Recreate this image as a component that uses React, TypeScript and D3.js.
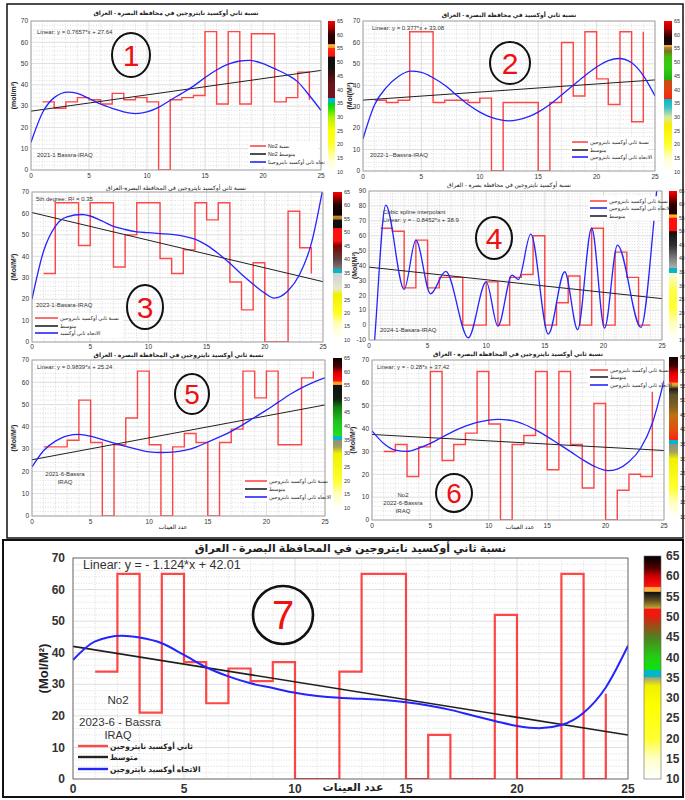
import * as d3 from 'd3';
import React from 'react';

// sample numbers on the x axis (stairs run from sample 1 to 24)
const samples = d3.range(1, 25);

// ---- 2021-1 ----
const no2_2021_1 = [32, 29, 32, 34, 33, 31, 36, 33, 34, 32, 0, 33, 34, 35, 65, 31, 65, 31, 64, 64, 32, 34, 46, 33];
const fit_2021_1 = [0.7657, 27.64]; // slope, intercept
const trend_2021_1 = [[0, 13], [1, 27], [2, 34], [3.2, 36.6], [4, 36], [5, 33.6], [6, 31], [7, 29], [8, 27.3], [9, 26.5], [10, 27.3], [11, 29.4], [12, 32.8], [13, 36], [14, 39.4], [15, 43.4], [16, 47], [17, 49.7], [18, 51.2], [18.8, 51.5], [20, 50], [21, 47.6], [22, 45], [23, 41.4], [24, 35], [25, 28]];

// ---- 2022-1 ----
const no2_2022_1 = [33, 32, 33, 65, 65, 32, 33, 33, 32, 34, 0, 32, 32, 32, 0, 32, 60, 35, 65, 43, 31, 65, 23, 65];
const fit_2022_1 = [0.377, 33.08];
const trend_2022_1 = [[0, 15], [1, 31], [2, 39], [3, 44], [4.1, 46.6], [5, 46], [6, 43.5], [7, 40], [8, 35.5], [9, 31], [10, 27.5], [11, 25], [12.5, 23.4], [14, 25], [15, 27.5], [16, 31], [17, 35.5], [18, 40], [19, 44.5], [20, 48.5], [21, 51.5], [21.9, 52.5], [23, 50.5], [24, 44.5], [25, 35]];

// ---- 2023-1 ----
const no2_2023_1 = [32, 65, 65, 45, 65, 65, 35, 50, 65, 65, 39, 32, 43, 65, 57, 65, 28, 15, 37, 0, 0, 61, 44, 32];
const fit_2023_1 = [-1.29, 60.4];
const trend_2023_1 = [[0, 20], [1, 42.5], [2, 54], [3, 58.4], [4.3, 59.5], [5, 58.8], [6, 56.5], [7, 54], [8, 52.5], [9, 51.4], [10, 51], [11, 50.6], [12, 50.2], [13, 49.4], [14, 48], [15, 45.2], [16, 41.3], [17, 36.7], [18, 31.6], [19, 27], [20, 22.8], [20.8, 20.5], [22, 23.9], [23, 31.6], [24, 46], [25, 72]];

// ---- 2024-1 ----
const no2_2024_1 = [65, 63, 25, 57, 25, 32, 32, 0, 0, 29, 0, 32, 34, 60, 0, 15, 33, 0, 65, 0, 49, 32, 0, 0];
const fit_2024_1 = [-0.8452, 38.9];
const trend_2024_1 = [[0, -60], [0.48, -10], [1.43, 80.5], [3.0, 24], [4.0, 57], [5.25, 21], [6.55, 36], [8.47, -8.5], [10.0, 29], [11.0, -0.7], [12.2, 33.5], [12.75, 30.6], [13.8, 61], [15.3, -6], [16.7, 35.8], [17.8, -3], [19.0, 65], [20.1, -2], [21.2, 53.7], [23.2, -1.5], [24.3, 69], [24.6, 95]];

// ---- 2021-6 ----
const no2_2021_6 = [31, 31, 34, 52, 33, 0, 32, 44, 65, 32, 0, 31, 37, 33, 0, 33, 39, 65, 53, 65, 32, 32, 62, 65];
const fit_2021_6 = [0.9839, 25.24];
const trend_2021_6 = [[0, 22], [1, 29.4], [2, 33.6], [3, 36], [4, 36.6], [5, 35.8], [6, 34.3], [7, 32.7], [8, 31.2], [9, 29.9], [10, 28.8], [11, 28.5], [12, 28.7], [13, 29.4], [14, 30.9], [15, 33.2], [16, 35.5], [17, 38], [18, 41], [19, 44.3], [20, 47.5], [21, 51], [22, 54.5], [23, 57.5], [24, 60], [25, 62]];

// ---- 2022-6 ----
const no2_2022_6 = [30, 33, 19, 32, 65, 26, 33, 38, 65, 42, 0, 33, 37, 65, 22, 65, 33, 14, 51, 0, 13, 20, 19, 56];
const fit_2022_6 = [-0.28, 37.42];
const trend_2022_6 = [[0, 39], [1, 33.5], [2, 30.6], [3, 30], [4, 31.4], [5, 33.5], [6, 36.2], [7, 38.9], [8, 41.1], [9, 42.7], [10, 43.7], [10.8, 44], [12, 43.5], [13, 41.9], [14, 39.4], [15, 36.5], [16, 33.2], [17, 29.9], [18, 26.5], [19, 23.6], [20.2, 21.6], [21, 22.3], [22, 25.5], [23, 31.4], [24, 42.3], [25, 61]];

// ---- 2023-6 ----
const no2_2023_6 = [34, 65, 21, 65, 37, 24, 35, 31, 37, 0, 0, 34, 65, 65, 0, 14, 0, 0, 52, 0, 0, 65, 0, 27];
const fit_2023_6 = [-1.124, 42.01];
const trend_2023_6 = [[0, 37.7], [1, 43.6], [2.2, 45.4], [3, 44.8], [4, 43], [5, 39.3], [6, 35.4], [7, 32.5], [8, 30.3], [9, 28.8], [10, 27.3], [11, 26.3], [12, 25.7], [13, 25.4], [14, 25], [15, 24.3], [16, 23.3], [17, 21.9], [18, 20.1], [19, 18.4], [20, 16.8], [21, 16.1], [22, 17.1], [23, 21], [24, 29], [25, 42.2]];

// colour bar maps: [value, colour]
const cmap1 = [[10, '#ffffff'], [14, '#ffffd8'], [20, '#ffff30'], [25, '#ffff00'], [30, '#b0f000'], [33, '#30e000'], [35, '#00d020'], [35, '#00b8c8'], [36.8, '#00b8c8'], [36.8, '#7a1020'], [42, '#6a1418'], [46, '#3a0e0e'], [48.5, '#101010'], [51.8, '#101010'], [52.2, '#ff1010'], [55, '#ff3010'], [55.3, '#ff9020'], [56.4, '#ffc040'], [56.6, '#200000'], [60, '#300000'], [62, '#900000'], [65, '#ff0000']];
const cmap2 = [[10, '#ffffff'], [15, '#ffffd0'], [20, '#ffff30'], [27, '#f8f000'], [30, '#d8e8a0'], [33.5, '#40c0c8'], [36.6, '#00b8c8'], [36.6, '#ff2010'], [40, '#e04010'], [43.4, '#c05010'], [43.4, '#20b010'], [48, '#30d010'], [52, '#40c010'], [54, '#807020'], [55.4, '#a09030'], [55.6, '#ffa030'], [56.2, '#ffa030'], [56.4, '#101010'], [59, '#200000'], [62, '#a00000'], [65, '#ff0000']];
const cmap3 = [[10, '#ffffff'], [16, '#ffffc0'], [20, '#ffff20'], [27, '#f0f000'], [29, '#e8e8d0'], [34.8, '#d0d0d0'], [34.8, '#00b8c8'], [36.2, '#00b8c8'], [36.2, '#808080'], [40, '#604040'], [45, '#800000'], [47, '#ff1010'], [51.5, '#ff1010'], [51.8, '#101010'], [54.5, '#101010'], [55, '#b08020'], [56, '#c09030'], [56.4, '#100000'], [60, '#200000'], [62.5, '#900000'], [65, '#ff0000']];
const cmap4 = [[10, '#ffffff'], [16, '#ffffc0'], [22, '#ffff30'], [28, '#ffff40'], [34.6, '#fafad8'], [34.6, '#00b8c8'], [36.5, '#00b8c8'], [36.5, '#b0b0b0'], [40, '#808080'], [45, '#303030'], [50, '#101010'], [50.2, '#ff1010'], [55, '#ff1010'], [55.3, '#ffb020'], [56.2, '#ffb020'], [56.5, '#200000'], [60, '#300000'], [62.5, '#a00000'], [65, '#ff0000']];
const cmap5 = [[10, '#ffffff'], [15, '#ffffc0'], [20, '#ffff30'], [30, '#f0f000'], [32.5, '#a0a060'], [35, '#909080'], [35, '#00b8c8'], [36.5, '#00b8c8'], [36.5, '#20e020'], [42, '#20c020'], [47, '#108010'], [50, '#102010'], [55, '#101010'], [55.3, '#ffa020'], [56.2, '#ffa020'], [56.5, '#ff1010'], [59.5, '#e00000'], [62, '#400000'], [65, '#100000']];
const cmap6 = [[10, '#ffffff'], [15, '#ffffc0'], [20, '#ffff30'], [30, '#f0f000'], [32.5, '#a0a060'], [35, '#909080'], [35, '#00b8c8'], [36.5, '#00b8c8'], [36.5, '#ff2010'], [40, '#e05010'], [45, '#c07010'], [48, '#806020'], [52, '#605030'], [54, '#202010'], [55.2, '#c0a040'], [56, '#ffa020'], [56.4, '#ff1010'], [59.5, '#e00000'], [62, '#400000'], [65, '#100000']];
const cmap7 = [[10, '#ffffff'], [15, '#ffffc8'], [20, '#ffff30'], [28, '#ffff00'], [33, '#f0f000'], [35, '#a0a080'], [35.2, '#00b8c8'], [36.8, '#00b8c8'], [37, '#10e010'], [40, '#20d010'], [45, '#508020'], [50, '#e02010'], [51.8, '#ff1010'], [52.2, '#c0a030'], [54, '#605020'], [56, '#101010'], [56.3, '#ffb040'], [57.2, '#ffb040'], [57.5, '#ff1010'], [60, '#d00000'], [62, '#500000'], [65, '#000000']];

const cbTicks = d3.range(10, 70, 5);
const FONT = "'Liberation Sans', 'DejaVu Sans', Arial, sans-serif";
const RED = 'rgba(255,20,20,0.78)';
const BLUE = '#2424ff';

type LegendItem = { c: string; t: string };

type PanelCfg = {
  id: string;
  values: number[];
  fit: number[];
  trend: number[][];
  cmap: (string | number)[][];
  x0: number; x1: number; yT: number; yB: number;
  yDomain: [number, number];
  fs: number;
  tickGap: number;
  title?: string; titleY?: number;
  xlabel?: string; xlabelX?: number; xlabelY?: number;
  ylabel: string; ylabelX: number;
  cb: [number, number, number, number]; // x, w, top, bottom
  cbFs: number;
  legend: LegendItem[]; legX: number; legY: number[]; legW: number; legFs: number; legBoxW: number;
  notes: { t: string; x: number; y: number; anchor?: string; fs?: number }[];
  circle: [number, number, number, number, string, number];
  big?: boolean;
};

function Panel({ p }: { p: PanelCfg }) {
  const x = d3.scaleLinear().domain([0, 25]).range([p.x0, p.x1]);
  const y = d3.scaleLinear().domain(p.yDomain).range([p.yB, p.yT]);
  const yTicks = d3.range(p.yDomain[0], p.yDomain[1] + 1, 10);
  const xTicks = d3.range(0, 26, 5);
  const xMinor = d3.range(0, 26, 1).filter(v => v % 5 !== 0);
  const yMinor = d3.range(p.yDomain[0], p.yDomain[1] + 1, 2).filter(v => v % 10 !== 0);

  const stairs = d3.line<number>()
    .x((d, i) => x(samples[i]))
    .y(d => y(d))
    .curve(d3.curveStepAfter)(p.values) as string;
  const fitLine = d3.line<number>()
    .x(d => x(d))
    .y(d => y(p.fit[0] * d + p.fit[1]))([0, 25]) as string;
  const trend = d3.line<number[]>()
    .x(d => x(d[0]))
    .y(d => y(d[1]))
    .curve(d3.curveMonotoneX)(p.trend) as string;

  const cbScale = d3.scaleLinear().domain([10, 65]).range([p.cb[3], p.cb[2]]);
  const lw = p.big ? 2 : 1.3;
  const [cx, cy, rx, ry, num, nfs] = p.circle;
  const legTop = p.legY[0] - p.legFs * 0.9;
  const legBottom = p.legY[p.legY.length - 1] + p.legFs * 0.9;

  return (
    <g fontFamily={FONT}>
      <defs>
        <clipPath id={`clip-${p.id}`}>
          <rect x={p.x0} y={p.yT} width={p.x1 - p.x0} height={p.yB - p.yT} />
        </clipPath>
        <linearGradient id={`cb-${p.id}`} x1="0" y1="1" x2="0" y2="0">
          {p.cmap.map((s, i) => (
            <stop key={i} offset={(((s[0] as number) - 10) / 55).toFixed(4)} stopColor={s[1] as string} />
          ))}
        </linearGradient>
      </defs>
      <rect x={p.x0} y={p.yT} width={p.x1 - p.x0} height={p.yB - p.yT} fill="#fff" />
      {/* minor grid */}
      {xMinor.map(v => (
        <line key={'xm' + v} x1={x(v)} x2={x(v)} y1={p.yT} y2={p.yB} stroke="#c4c4c4" strokeWidth={0.6} strokeDasharray="1,1.6" />
      ))}
      {yMinor.map(v => (
        <line key={'ym' + v} x1={p.x0} x2={p.x1} y1={y(v)} y2={y(v)} stroke="#c4c4c4" strokeWidth={0.6} strokeDasharray="1,1.6" />
      ))}
      {/* major grid */}
      {xTicks.map(v => (
        <line key={'xg' + v} x1={x(v)} x2={x(v)} y1={p.yT} y2={p.yB} stroke="#d6d6d6" strokeWidth={0.8} />
      ))}
      {yTicks.map(v => (
        <line key={'yg' + v} x1={p.x0} x2={p.x1} y1={y(v)} y2={y(v)} stroke="#d6d6d6" strokeWidth={0.8} />
      ))}
      <g clipPath={`url(#clip-${p.id})`}>
        <path d={stairs} fill="none" stroke={RED} strokeWidth={p.big ? 2.2 : 1.4} />
        <path d={fitLine} fill="none" stroke="#202020" strokeWidth={p.big ? 1.6 : 1} />
        <path d={trend} fill="none" stroke={BLUE} strokeWidth={lw} />
      </g>
      <rect x={p.x0} y={p.yT} width={p.x1 - p.x0} height={p.yB - p.yT} fill="none" stroke={p.big ? '#555' : '#999'} strokeWidth={0.8} />
      {/* ticks */}
      {xTicks.map(v => (
        <text key={'xt' + v} x={x(v)} y={p.yB + p.tickGap} fontSize={p.fs} textAnchor="middle" fill="#333" fontWeight={p.big ? 700 : 400}>{v}</text>
      ))}
      {yTicks.map(v => (
        <text key={'yt' + v} x={p.x0 - (p.big ? 8 : 3)} y={y(v) + p.fs * 0.35} fontSize={p.fs} textAnchor="end" fill="#333" fontWeight={p.big ? 700 : 400}>{v}</text>
      ))}
      {/* labels */}
      {p.title && (
        <text x={(p.x0 + p.x1) / 2} y={p.titleY} fontSize={p.big ? 11 : 6} textAnchor="middle" fill="#222" fontWeight={700}>{p.title}</text>
      )}
      {p.xlabel && (
        <text x={p.xlabelX ?? (p.x0 + p.x1) / 2} y={p.xlabelY} fontSize={p.big ? 11 : 6} textAnchor="middle" fill="#222" fontWeight={p.big ? 700 : 400}>{p.xlabel}</text>
      )}
      <text transform={`translate(${p.ylabelX},${(p.yT + p.yB) / 2}) rotate(-90)`} fontSize={p.big ? 13 : 7} fontWeight={700} textAnchor="middle" fill="#222">{p.ylabel}</text>
      {/* colour bar */}
      <rect x={p.cb[0]} y={p.cb[2]} width={p.cb[1]} height={p.cb[3] - p.cb[2]} fill={`url(#cb-${p.id})`} stroke={p.big ? '#666' : 'none'} strokeWidth={0.6} />
      {cbTicks.map(v => (
        <text key={'cb' + v} x={p.cb[0] + p.cb[1] + (p.big ? 5 : 2)} y={cbScale(v) + p.cbFs * 0.35} fontSize={p.cbFs} fill="#333" fontWeight={p.big ? 700 : 400}>{v}</text>
      ))}
      {/* notes */}
      {p.notes.map((n, i) => (
        <text key={'n' + i} x={n.x} y={n.y} fontSize={n.fs ?? 6} textAnchor={n.anchor ?? 'start'} fill="#333">{n.t}</text>
      ))}
      {/* legend */}
      <rect x={p.legX - 2} y={legTop} width={p.legBoxW} height={legBottom - legTop} fill="#fff" />
      {p.legend.map((l, i) => (
        <g key={'l' + i}>
          <line x1={p.legX} x2={p.legX + p.legW} y1={p.legY[i]} y2={p.legY[i]} stroke={l.c} strokeWidth={p.big ? 2.4 : 1.6} />
          <text x={p.legX + p.legW + 2} y={p.legY[i] + p.legFs * 0.35} fontSize={p.legFs} fill="#222" fontWeight={p.big ? 700 : 400}>{l.t}</text>
        </g>
      ))}
      {/* numbered circle */}
      <ellipse cx={cx} cy={cy} rx={rx} ry={ry} fill="none" stroke="#111" strokeWidth={p.big ? 2.6 : 2} />
      <text x={cx} y={cy + (nfs as number) * 0.36} fontSize={nfs} textAnchor="middle" fill="#ee1111" fontFamily="'Liberation Sans', Arial, sans-serif">{num}</text>
    </g>
  );
}

const legA = ['نسبة ثاني أوكسيد نايتروجين', 'متوسط', 'الاتجاه ثاني أوكسيد نايتروجين'];

const panels: PanelCfg[] = [
  {
    id: 'p1', values: no2_2021_1, fit: fit_2021_1, trend: trend_2021_1, cmap: cmap1,
    x0: 31, x1: 321, yT: 21, yB: 170, yDomain: [0, 70], fs: 6.5, tickGap: 8,
    title: 'نسبة ثاني أوكسيد نايتروجين في محافظة البصرة - العراق', titleY: 15,
    xlabel: 'نسبة ثاني أوكسيد نايتروجين في المحافظة البصرة-العراق', xlabelY: 190,
    ylabel: '(mol/m²)', ylabelX: 16, cb: [328, 7, 21, 172], cbFs: 5.5,
    legend: [{ c: RED, t: 'No2 نسبة' }, { c: '#222', t: 'No2 متوسط' }, { c: BLUE, t: 'تجاه ثاني أوكسيد نايتروجينا' }],
    legX: 250, legY: [146, 154, 162], legW: 16, legFs: 5.2, legBoxW: 70,
    notes: [{ t: 'Linear:  y = 0.7657*x + 27.64', x: 37, y: 34 }, { t: '2021-1 Bassra-IRAQ', x: 37, y: 157 }],
    circle: [131, 55, 19, 22, '1', 30],
  },
  {
    id: 'p2', values: no2_2022_1, fit: fit_2022_1, trend: trend_2022_1, cmap: cmap2,
    x0: 363, x1: 655, yT: 21, yB: 171, yDomain: [0, 70], fs: 6.5, tickGap: 8,
    title: 'نسبة ثاني أوكسيد في محافظة البصرة - العراق', titleY: 17,
    xlabel: 'نسبة أوكسيد نايتروجين في محافظة بصرة - العراق', xlabelY: 187,
    ylabel: '(Mol(M²)', ylabelX: 352, cb: [664, 8, 21, 172], cbFs: 5.5,
    legend: legA.map((t, i) => ({ c: [RED, '#222', BLUE][i], t })),
    legX: 572, legY: [142, 150, 157], legW: 16, legFs: 5.2, legBoxW: 78,
    notes: [{ t: 'Linear:  y = 0.377*x + 33.08', x: 372, y: 30 }, { t: '2022-1--Bassra-IRAQ', x: 370, y: 157 }],
    circle: [510, 63, 20, 21, '2', 30],
  },
  {
    id: 'p3', values: no2_2023_1, fit: fit_2023_1, trend: trend_2023_1, cmap: cmap3,
    x0: 32, x1: 323, yT: 192, yB: 342, yDomain: [0, 70], fs: 6.5, tickGap: 6.5,
    ylabel: '(Mol/M²)', ylabelX: 16, cb: [333, 9, 192, 340], cbFs: 5.5,
    legend: [{ c: RED, t: legA[0] }, { c: '#222', t: 'متوسط' }, { c: BLUE, t: 'الاتجاه ثاني أوكسيد' }],
    legX: 35, legY: [318, 326, 333], legW: 23, legFs: 5.2, legBoxW: 90,
    notes: [{ t: '5th degree: R² = 0.35', x: 36, y: 201 }, { t: '2023-1-Basara-IRAQ', x: 36, y: 307 }],
    circle: [145, 307, 18, 22, '3', 30],
  },
  {
    id: 'p4', values: no2_2024_1, fit: fit_2024_1, trend: trend_2024_1, cmap: cmap4,
    x0: 369, x1: 662, yT: 191, yB: 340, yDomain: [-10, 90], fs: 6.5, tickGap: 8,
    ylabel: '(Mol(M²)', ylabelX: 357, cb: [669, 8, 191, 340], cbFs: 5,
    legend: [{ c: RED, t: legA[0] }, { c: BLUE, t: legA[2] }, { c: '#222', t: 'متوسط' }],
    legX: 590, legY: [201, 208, 216], legW: 17, legFs: 5.2, legBoxW: 70,
    notes: [
      { t: 'Cubic spline interpolant', x: 383, y: 214 },
      { t: 'Linear:  y = - 0.8452*x + 38.9', x: 383, y: 222 },
      { t: '2024-1-Basara-IRAQ', x: 380, y: 332 },
    ],
    circle: [494, 238, 18, 21, '4', 30],
  },
  {
    id: 'p5', values: no2_2021_6, fit: fit_2021_6, trend: trend_2021_6, cmap: cmap5,
    x0: 32, x1: 325, yT: 360, yB: 516, yDomain: [0, 70], fs: 6.5, tickGap: 8,
    title: 'نسبة ثاني أوكسيد نايتروجين في المحافظة البصرة - العراق', titleY: 357,
    xlabel: 'عدد العينات', xlabelX: 173, xlabelY: 529,
    ylabel: '(Mol/M²)', ylabelX: 16, cb: [333, 9, 358, 508], cbFs: 5.5,
    legend: legA.map((t, i) => ({ c: [RED, '#222', BLUE][i], t })),
    legX: 245, legY: [481, 489, 497], legW: 22, legFs: 5.2, legBoxW: 78,
    notes: [
      { t: 'Linear:  y = 0.9839*x + 25.24', x: 37, y: 369 },
      { t: '2021-6-Bassra', x: 65, y: 476, anchor: 'middle' },
      { t: 'IRAQ', x: 65, y: 484, anchor: 'middle' },
    ],
    circle: [192, 394, 17, 20, '5', 28],
  },
  {
    id: 'p6', values: no2_2022_6, fit: fit_2022_6, trend: trend_2022_6, cmap: cmap6,
    x0: 372, x1: 664, yT: 360, yB: 520, yDomain: [0, 70], fs: 6.5, tickGap: 8,
    title: 'نسبة ثاني أوكسيد نايتروجين في المحافظة البصرة - العراق', titleY: 356,
    xlabel: 'عدد العينات', xlabelX: 520, xlabelY: 529,
    ylabel: '(Mol/M²)', ylabelX: 355, cb: [669, 9, 357, 517], cbFs: 5,
    legend: legA.map((t, i) => ({ c: [RED, '#222', BLUE][i], t })),
    legX: 590, legY: [370, 377, 385], legW: 18, legFs: 5.2, legBoxW: 72,
    notes: [
      { t: 'Linear:  y = - 0.28*x + 37.42', x: 377, y: 369 },
      { t: 'No2', x: 403, y: 497, anchor: 'middle' },
      { t: '2022-6-Bassra', x: 403, y: 505, anchor: 'middle' },
      { t: 'IRAQ', x: 403, y: 513, anchor: 'middle' },
    ],
    circle: [454, 493, 18, 19, '6', 28],
  },
  {
    id: 'p7', values: no2_2023_6, fit: fit_2023_6, trend: trend_2023_6, cmap: cmap7,
    x0: 73, x1: 628, yT: 558, yB: 779, yDomain: [0, 70], fs: 12, tickGap: 14, big: true,
    title: 'نسبة ثاني أوكسيد نايتروجين في المحافظة البصرة - العراق', titleY: 552,
    xlabel: 'عدد العينات', xlabelX: 353, xlabelY: 791,
    ylabel: '(Mol/M²)', ylabelX: 48, cb: [644, 17, 556, 779], cbFs: 12,
    legend: [{ c: RED, t: 'ثاني أوكسيد نايتروجين' }, { c: '#222', t: 'متوسط' }, { c: BLUE, t: 'الاتجاه أوكسيد نايتروجين' }],
    legX: 78, legY: [746, 757, 769], legW: 30, legFs: 7.5, legBoxW: 0,
    notes: [
      { t: 'Linear:  y = - 1.124*x + 42.01', x: 83, y: 569, fs: 12.5 },
      { t: 'No2', x: 118, y: 704, anchor: 'middle', fs: 11.5 },
      { t: '2023-6 - Bassra', x: 120, y: 726, anchor: 'middle', fs: 11.5 },
      { t: 'IRAQ', x: 118, y: 739, anchor: 'middle', fs: 11 },
    ],
    circle: [283, 615, 30, 29, '7', 40],
  },
];

export default function App() {
  return (
    <svg width={685} height={800} style={{ position: 'absolute', left: 0, top: 0, background: '#fff' }}>
      <rect x={0} y={0} width={685} height={800} fill="#fff" />
      {panels.map(p => <Panel key={p.id} p={p} />)}
      <rect x={7} y={4} width={676} height={534} fill="none" stroke="#111" strokeWidth={1.5} />
      <rect x={3} y={540} width={680} height={257} fill="none" stroke="#111" strokeWidth={2} />
    </svg>
  );
}
